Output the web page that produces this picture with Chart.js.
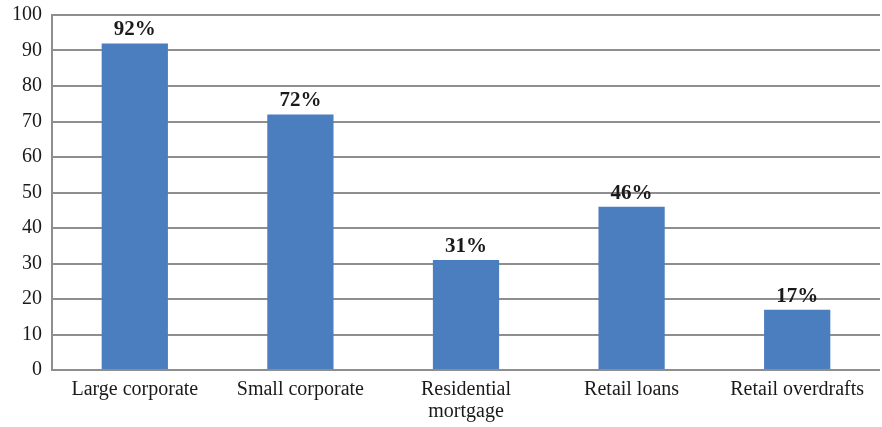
<!DOCTYPE html>
<html>
<head>
<meta charset="utf-8">
<script src="https://cdn.jsdelivr.net/npm/chart.js@4/dist/chart.umd.min.js"></script>
<style>
  html, body { margin: 0; padding: 0; background: #fff; }
  #wrap { width: 882px; height: 427px; position: relative; }
</style>
</head>
<body>
<div id="wrap"><canvas id="chart"></canvas></div>
<script>
// data
const categories = ['Large corporate', 'Small corporate', ['Residential', 'mortgage'], 'Retail loans', 'Retail overdrafts'];
const shares = [92, 72, 31, 46, 17];
const yTicks = [0, 10, 20, 30, 40, 50, 60, 70, 80, 90, 100];

const serif = '"Liberation Serif", "DejaVu Serif", serif';

// percent labels above each bar
const barLabels = {
  id: 'barLabels',
  afterDatasetsDraw(chart) {
    const ctx = chart.ctx;
    const meta = chart.getDatasetMeta(0);
    ctx.save();
    ctx.font = 'bold 21px ' + serif;
    ctx.fillStyle = '#1a1a1a';
    ctx.textAlign = 'center';
    ctx.textBaseline = 'bottom';
    meta.data.forEach(function(bar, i) {
      ctx.fillText(shares[i] + '%', bar.x, bar.y - 3);
    });
    ctx.restore();
  }
};

new Chart(document.getElementById('chart'), {
  type: 'bar',
  data: {
    labels: categories,
    datasets: [{
      data: shares,
      backgroundColor: '#4a7ebf',
      categoryPercentage: 1,
      barPercentage: 0.4
    }]
  },
  options: {
    responsive: true,
    maintainAspectRatio: false,
    animation: false,
    layout: { padding: { top: 15, right: 2, left: 2, bottom: 0 } },
    plugins: { legend: { display: false }, tooltip: { enabled: false } },
    scales: {
      x: {
        afterFit(axis) { axis.height = 57; },
        grid: { display: false, drawTicks: false },
        border: { display: false },
        ticks: { color: '#1a1a1a', font: { family: serif, size: 20, lineHeight: 1.1 }, padding: 9, maxRotation: 0, autoSkip: false }
      },
      y: {
        min: 0,
        max: 100,
        afterBuildTicks(axis) { axis.ticks = yTicks.map(v => ({ value: v })); },
        grid: { color: '#8e8e8e', lineWidth: 2, drawTicks: false },
        border: { display: true, color: '#8e8e8e', width: 2 },
        ticks: { color: '#1a1a1a', font: { family: serif, size: 20, lineHeight: 0.5 }, padding: 10 }
      }
    }
  },
  plugins: [barLabels]
});
</script>
</body>
</html>
